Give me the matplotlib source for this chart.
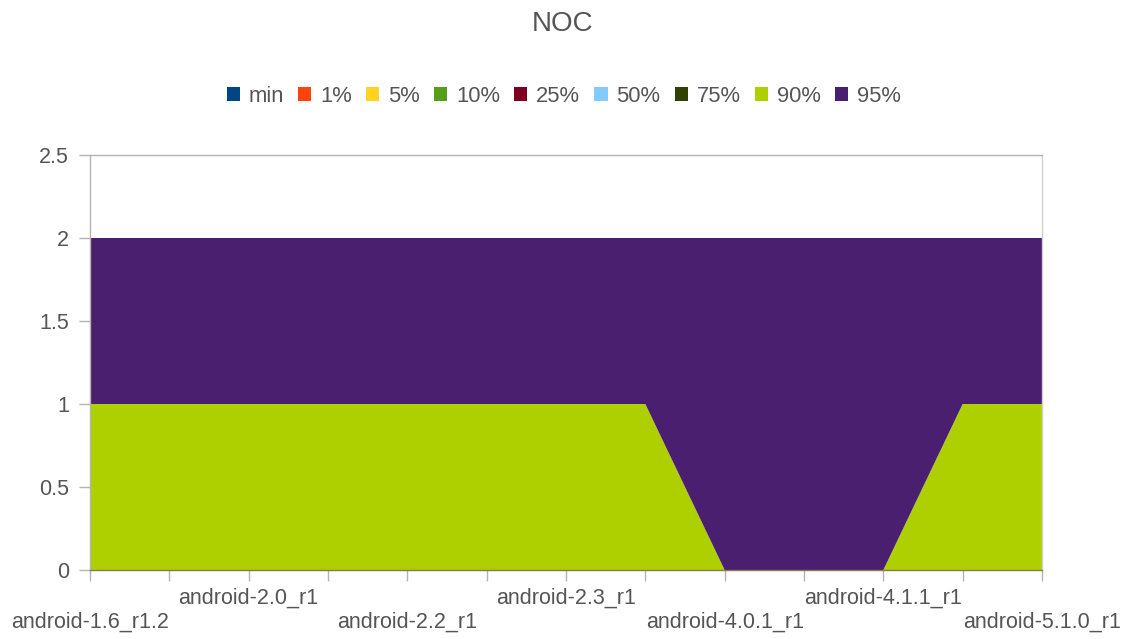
import matplotlib
matplotlib.use("Agg")
import matplotlib.pyplot as plt
from matplotlib.patches import Patch
import numpy as np

plt.rcParams['font.family'] = ['Liberation Sans', 'DejaVu Sans']

categories = ["android-1.6_r1.2", "", "android-2.0_r1", "", "android-2.2_r1", "",
              "android-2.3_r1", "", "android-4.0.1_r1", "", "android-4.1.1_r1", "",
              "android-5.1.0_r1"]
series_names = ["min", "1%", "5%", "10%", "25%", "50%", "75%", "90%", "95%"]
colors = ["#004586", "#ff420e", "#ffd320", "#579d1c", "#7e0021", "#83caff",
          "#314004", "#aecf00", "#4b1f6f"]

v_min = [0] * 13
v_p1 = [0] * 13
v_p5 = [0] * 13
v_p10 = [0] * 13
v_p25 = [0] * 13
v_p50 = [0] * 13
v_p75 = [0] * 13
v_p90 = [1, 1, 1, 1, 1, 1, 1, 1, 0, 0, 0, 1, 1]
v_p95 = [1, 1, 1, 1, 1, 1, 1, 1, 2, 2, 2, 1, 1]
values = [v_min, v_p1, v_p5, v_p10, v_p25, v_p50, v_p75, v_p90, v_p95]

text_color = "#555555"

fig = plt.figure(figsize=(11.25, 6.39), dpi=100)
ax = fig.add_axes([90/1125, 1 - 570/639, (1042 - 90)/1125, (570 - 155)/639])

x = np.arange(len(categories))
ax.stackplot(x, *values, colors=colors, linewidth=0)

ax.set_xlim(0, len(categories) - 1)
ax.set_ylim(0, 2.5)
ax.set_yticks([0, 0.5, 1, 1.5, 2, 2.5])
ax.set_yticklabels(["0", "0.5", "1", "1.5", "2", "2.5"])

labels = []
for i, c in enumerate(categories):
    if c == "":
        labels.append("")
    elif (i // 2) % 2 == 0:
        labels.append("\n" + c)
    else:
        labels.append(c)
ax.set_xticks(x)
ax.set_xticklabels(labels, linespacing=1.15)

ax.tick_params(axis='both', colors="#b3b3b3", labelcolor=text_color, labelsize=15.5,
               length=8, width=1)
ax.tick_params(axis='x', pad=5)
ax.tick_params(axis='y', pad=7)

ax.spines['left'].set_color("#b3b3b3")
ax.spines['top'].set_color("#b3b3b3")
ax.spines['right'].set_color("#d0d0d0")
ax.spines['bottom'].set_color("#8a7a50")
for s in ax.spines.values():
    s.set_linewidth(1)

fig.text(0.5, 1 - 24/639, "NOC", ha='center', va='center', fontsize=20, color=text_color)

handles = [Patch(facecolor=c, edgecolor='none') for c in colors]
fig.legend(handles, series_names, loc='center', bbox_to_anchor=(0.501, 1 - 96/639),
           ncol=9, frameon=False, fontsize=15.8, labelcolor=text_color,
           handlelength=0.6, handleheight=0.6, handletextpad=0.4, columnspacing=0.65)

fig.savefig("out.png", dpi=100)
